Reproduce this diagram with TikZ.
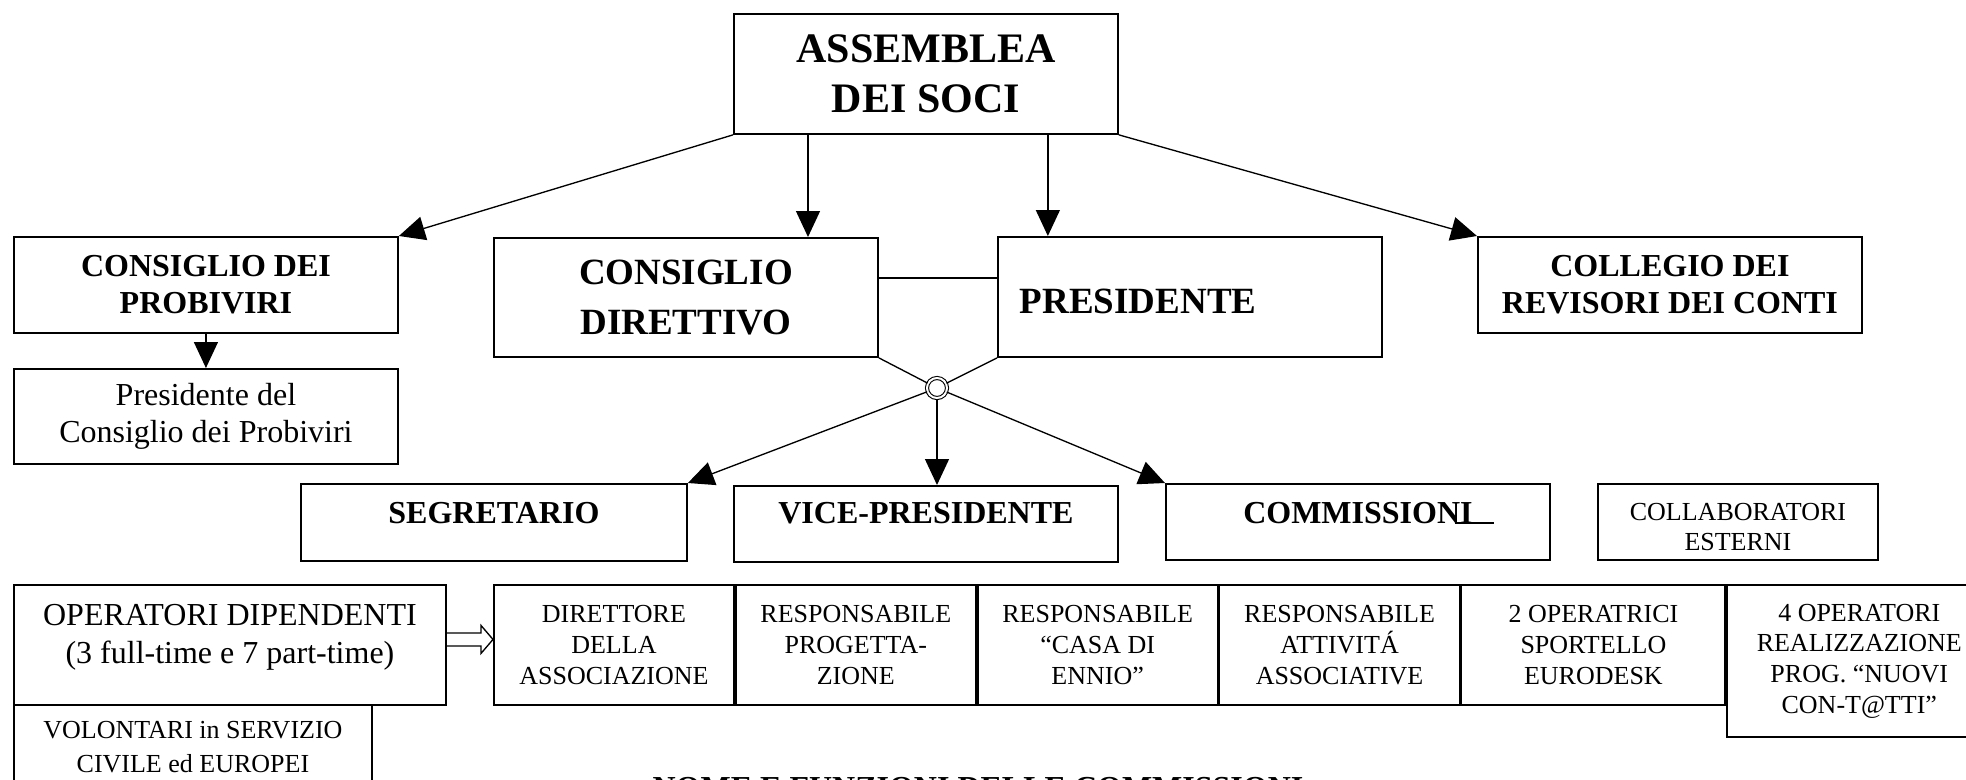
\documentclass[tikz,border=0pt]{standalone}
\usepackage{fontspec}
\setmainfont{Liberation Serif}
\usepackage{tikz}
\usetikzlibrary{calc,positioning,arrows.meta}

\newcommand{\fontAss}{\fontsize{31.5pt}{37.5pt}\selectfont\bfseries}
\newcommand{\fontBig}{\fontsize{27.75pt}{37.5pt}\selectfont\bfseries}
\newcommand{\fontHead}{\fontsize{24pt}{27.75pt}\selectfont\bfseries}
\newcommand{\fontText}{\fontsize{24pt}{28pt}\selectfont}
\newcommand{\fontSmall}{\fontsize{19.5pt}{23pt}\selectfont}

\tikzset{
  box/.style={draw, line width=1.4pt, inner sep=0pt, anchor=north west, align=center},
  arr/.style={line width=1pt, -{Triangle[length=19.5pt,width=18pt]}},
  wire/.style={line width=1pt},
  hub/.style={circle, draw, line width=0.8pt, double, double distance=1.5pt, minimum size=15pt, inner sep=0pt},
}

\begin{document}
\begin{tikzpicture}[x=0.75pt,y=0.75pt,yscale=-1,xscale=1]
\useasboundingbox (0,0) rectangle (1966,779);
\clip (0,0) rectangle (1966,779);

% Top level
\node[box, minimum width=288pt, minimum height=90pt, font=\fontAss] (ass) at (733,13) {ASSEMBLEA\\DEI SOCI};
\node[box, minimum width=288pt, minimum height=72pt, font=\fontHead] (prob) at (13,236) {CONSIGLIO DEI\\PROBIVIRI};
\node[box, minimum width=288pt, minimum height=89.25pt, font=\fontBig] (cd) at (493,237) {CONSIGLIO\\DIRETTIVO};
\node[box, minimum width=288pt, minimum height=90pt, font=\fontBig, text width=255pt, align=left, text height=57.75pt, text depth=32.25pt, inner xsep=16.5pt] (pres) at (997,236) {PRESIDENTE};
\node[box, minimum width=288pt, minimum height=72pt, font=\fontHead] (coll) at (1477,236) {COLLEGIO DEI\\REVISORI DEI CONTI};
\node[box, minimum width=288pt, minimum height=71.25pt, font=\fontText] (pdel) at (13,368) {Presidente del\\Consiglio dei Probiviri};

% Second level
\node[hub] (hub) at (937,388) {};
\node[box, minimum width=289.5pt, minimum height=57.75pt, font=\fontHead, text height=30pt, text depth=27.75pt] (seg) at (300,483) {SEGRETARIO};
\node[box, minimum width=288pt, minimum height=57pt, font=\fontHead, text height=28.5pt, text depth=28.5pt] (vp) at (733,485) {VICE-PRESIDENTE};
\node[box, minimum width=288pt, minimum height=57pt, font=\fontHead, text height=30pt, text depth=27pt] (comm) at (1165,483) {COMMISSIONI};
\node[box, minimum width=210pt, minimum height=57pt] (est) at (1597,483) {};
\node[font=\fontSmall, align=center] (estT) at ($(est.center)+(0,5)$) {COLLABORATORI\\ESTERNI};

% Staff
\node[box, minimum width=324pt, minimum height=90pt] (opd) at (13,584) {};
\node[font=\fontText, align=center] (opdT) at ($(opd.center)+(0,-7.5)$) {OPERATORI DIPENDENTI\\(3 full-time e 7 part-time)};
\node[box, minimum width=268.5pt, minimum height=63pt, font={\fontsize{19.5pt}{25pt}\selectfont}] (vol) at (13,704) {VOLONTARI in SERVIZIO\\CIVILE ed EUROPEI};
\node[box, minimum width=180pt, minimum height=90pt, font=\fontSmall] (dir) at (493,584) {DIRETTORE\\DELLA\\ASSOCIAZIONE};
\node[box, minimum width=180pt, minimum height=90pt, font=\fontSmall] (prog) at (dir.north east) {RESPONSABILE\\PROGETTA-\\ZIONE};
\node[box, minimum width=180pt, minimum height=90pt, font=\fontSmall] (casa) at (prog.north east) {RESPONSABILE\\“CASA DI\\ENNIO”};
\node[box, minimum width=180pt, minimum height=90pt, font=\fontSmall] (att) at (casa.north east) {RESPONSABILE\\ATTIVITÁ\\ASSOCIATIVE};
\node[box, minimum width=198pt, minimum height=90pt, font=\fontSmall] (eur) at (att.north east) {2 OPERATRICI\\SPORTELLO\\EURODESK};
\node[box, minimum width=198pt, minimum height=114pt, font=\fontSmall] (nuovi) at (eur.north east) {4 OPERATORI\\REALIZZAZIONE\\PROG. “NUOVI\\CON-T@TTI”};

\node[font=\fontHead, anchor=base] (title) at (978,798.5) {NOME E FUNZIONI DELLE COMMISSIONI};

% Connectors
\coordinate (a1) at ($(ass.south west)+(75,0)$);
\coordinate (a2) at ($(ass.south east)+(-71,0)$);
\draw[arr] (ass.south west) -- (prob.north east);
\draw[arr] (a1) -- (a1 |- cd.north);
\draw[arr] (a2) -- (a2 |- pres.north);
\draw[arr] (ass.south east) -- (coll.north west);
\draw[arr] (prob.south) -- (pdel.north);

\coordinate (link) at ($(cd.north east)+(0,41)$);
\draw[wire] (link) -- (link -| pres.west);
\draw[wire] (cd.south east) -- (hub);
\draw[wire] (pres.south west) -- (hub);
\draw[arr] (hub) -- (seg.north east);
\draw[arr] (hub) -- (hub |- vp.north);
\draw[arr] (hub) -- (comm.north west);

\draw[line width=1.4pt] ($(comm.north west)+(290,40)$) -- ++(39,0);

% hollow arrow
\coordinate (ha) at ($(opd.east)+(0,-5.5)$);
\coordinate (hb) at (ha -| dir.west);
\draw[wire, line join=miter] ($(ha)+(0,-6.5)$) -- ($(hb)+(-12,-6.5)$) -- ($(hb)+(-12,-14)$) -- (hb) -- ($(hb)+(-12,14)$) -- ($(hb)+(-12,6.5)$) -- ($(ha)+(0,6.5)$);

\end{tikzpicture}
\end{document}
